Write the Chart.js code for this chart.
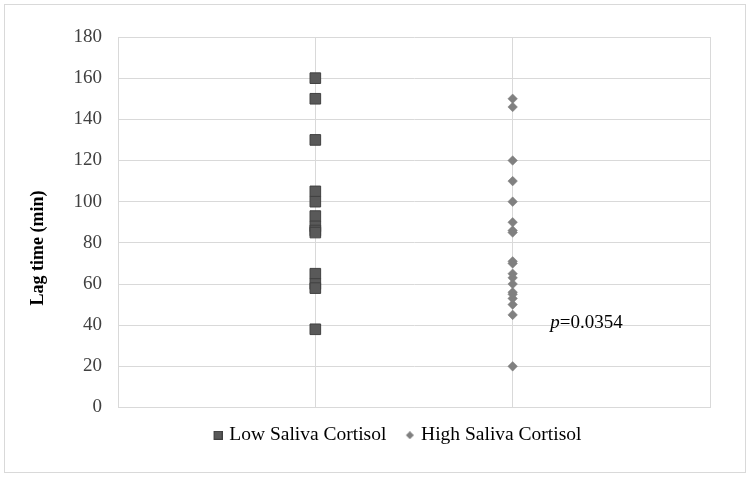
<!DOCTYPE html>
<html>
<head>
<meta charset="utf-8">
<script src="https://cdn.jsdelivr.net/npm/chart.js@4/dist/chart.umd.min.js"></script>
<style>
  html, body { margin: 0; padding: 0; background: #fff; }
</style>
</head>
<body>
<canvas id="chart" width="750" height="478"></canvas>
<script>
/* Lag time by saliva cortisol group (dot plot) */

const groupNames = ['Low Saliva Cortisol', 'High Saliva Cortisol'];
const groupX = [1, 2];
const lowCortisol = [160, 150, 130, 105, 100, 93, 88, 86, 85, 65, 60, 58, 38];
const highCortisol = [150, 146, 120, 110, 100, 90, 86, 85, 71, 70, 65, 63, 60, 56, 55, 53, 50, 45, 20];
const yMin = 0, yMax = 180, yStep = 20;
const yTitle = 'Lag time (min)';
const pValue = '0.0354';
const pLabelAt = { x: 2.19, y: 41 };

const SERIF = '"Liberation Serif", "Times New Roman", serif';
const GRID = '#d9d9d9';
const ICON_LEAD = 10; // blank space in front of each legend icon, widens the gap between items

// small canvases for the legend icons (square and diamond, sized like the reference)
function makeIcon(shape, size, fill, stroke) {
  const c = document.createElement('canvas');
  c.width = size + ICON_LEAD; c.height = size;
  const g = c.getContext('2d');
  g.translate(ICON_LEAD, 0);
  g.fillStyle = fill;
  g.strokeStyle = stroke;
  g.lineWidth = 1;
  if (shape === 'square') {
    g.fillRect(0.5, 0.5, size - 1, size - 1);
    g.strokeRect(0.5, 0.5, size - 1, size - 1);
  } else {
    const h = size / 2;
    g.beginPath();
    g.moveTo(h, 0); g.lineTo(size, h); g.lineTo(h, size); g.lineTo(0, h);
    g.closePath();
    g.fill();
  }
  return c;
}
const legendIcons = [
  makeIcon('square', 9, '#595959', '#404040'),
  makeIcon('diamond', 8, '#808080', '#808080')
];

const frame = {
  id: 'frame',
  beforeDraw(chart) {
    const ctx = chart.ctx;
    ctx.save();
    ctx.fillStyle = '#fff';
    ctx.fillRect(0, 0, chart.width, chart.height);
    ctx.strokeStyle = GRID;
    ctx.lineWidth = 1;
    ctx.strokeRect(4.5, 4.5, 741, 468);
    ctx.restore();
  }
};

// Excel centres the legend a bit right of the canvas middle
const legendShift = {
  id: 'legendShift',
  afterLayout(chart) {
    chart.legend.left += 39;
    chart.legend.right += 39;
  }
};

// axis title sits a little below the plot middle, as in Excel
const yAxisTitle = {
  id: 'yAxisTitle',
  afterDraw(chart) {
    const ctx = chart.ctx;
    ctx.save();
    ctx.translate(38, 248);
    ctx.rotate(-Math.PI / 2);
    ctx.textAlign = 'center';
    ctx.textBaseline = 'middle';
    ctx.fillStyle = '#000';
    ctx.font = 'bold 18px ' + SERIF;
    ctx.fillText(yTitle, 0, 0);
    ctx.restore();
  }
};

const pLabel = {
  id: 'pLabel',
  afterDatasetsDraw(chart) {
    const { ctx, scales } = chart;
    const x = scales.x.getPixelForValue(pLabelAt.x);
    const y = scales.y.getPixelForValue(pLabelAt.y);
    ctx.save();
    ctx.fillStyle = '#000';
    ctx.textBaseline = 'middle';
    ctx.font = 'italic 19px ' + SERIF;
    ctx.fillText('p', x, y);
    const w = ctx.measureText('p').width;
    ctx.font = '19px ' + SERIF;
    ctx.fillText('=' + pValue, x + w, y);
    ctx.restore();
  }
};

new Chart(document.getElementById('chart'), {
  type: 'scatter',
  data: {
    datasets: [
      {
        label: groupNames[0],
        data: lowCortisol.map(v => ({ x: groupX[0], y: v })),
        pointStyle: 'rect',
        pointRadius: 7.5,
        backgroundColor: '#595959',
        borderColor: '#404040',
        borderWidth: 1
      },
      {
        label: groupNames[1],
        data: highCortisol.map(v => ({ x: groupX[1], y: v })),
        pointStyle: 'rectRot',
        pointRadius: 4.8,
        backgroundColor: '#808080',
        borderColor: '#808080',
        borderWidth: 0.5
      }
    ]
  },
  options: {
    responsive: false,
    animation: false,
    layout: { padding: { top: 37, right: 40, bottom: 23, left: 0 } },
    plugins: {
      tooltip: { enabled: false },
      legend: {
        position: 'bottom',
        labels: {
          usePointStyle: true,
          boxWidth: 3 + ICON_LEAD,
          color: '#000',
          font: { family: SERIF, size: 19.5 },
          padding: 12,
          generateLabels(chart) {
            const items = Chart.defaults.plugins.legend.labels.generateLabels(chart);
            items.forEach((it, i) => { it.pointStyle = legendIcons[i]; });
            return items;
          }
        }
      }
    },
    scales: {
      x: {
        min: 0,
        max: 3,
        ticks: { display: false, stepSize: 1 },
        grid: { color: GRID, drawTicks: false },
        border: { color: GRID },
        afterFit(scale) { scale.height = 6; }
      },
      y: {
        min: yMin,
        max: yMax,
        ticks: {
          stepSize: yStep,
          padding: 16,
          color: '#404040',
          font: { family: SERIF, size: 19 }
        },
        grid: { color: GRID, drawTicks: false },
        border: { color: GRID },
        afterFit(scale) { scale.width = 118; }
      }
    }
  },
  plugins: [frame, legendShift, yAxisTitle, pLabel]
});
</script>
</body>
</html>
